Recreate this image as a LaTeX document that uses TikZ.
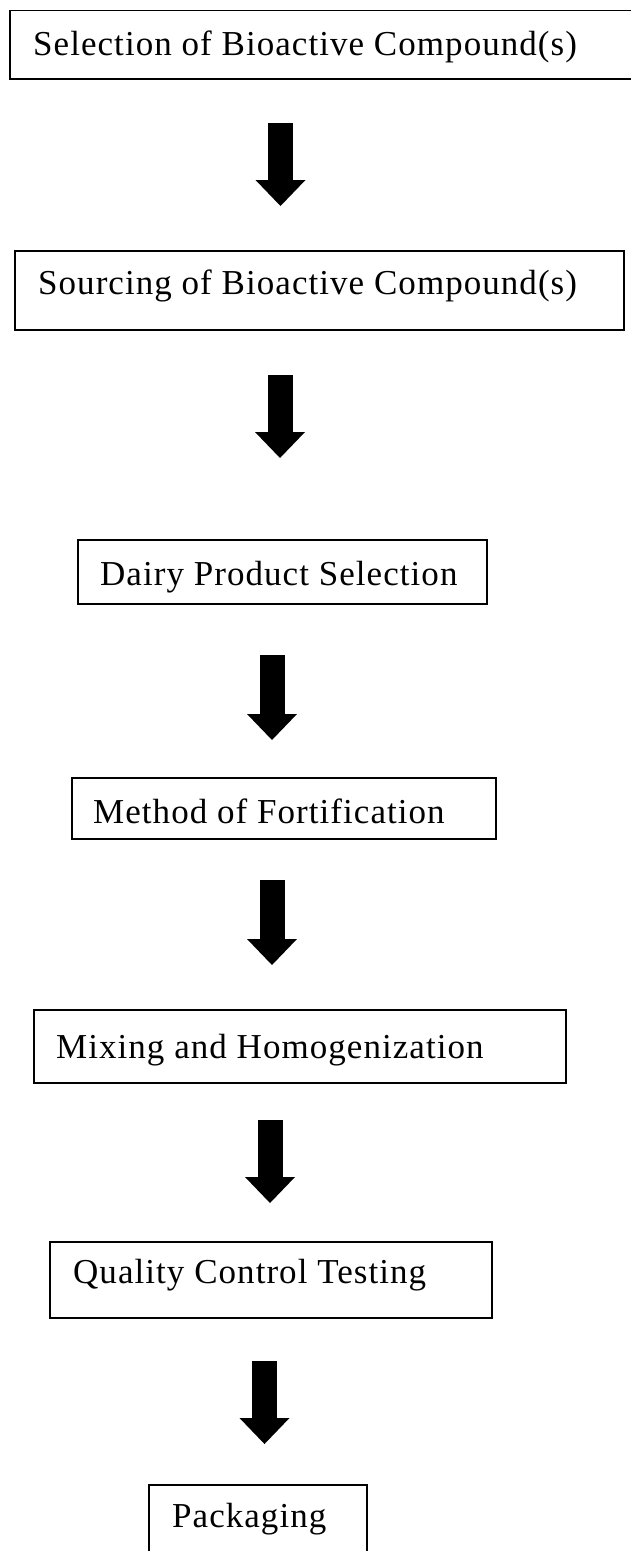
\documentclass[tikz,border=0pt]{standalone}
\usepackage{fontspec}
\setmainfont[LetterSpace=3]{Liberation Serif}
\usetikzlibrary{arrows.meta}

\begin{document}
\begin{tikzpicture}[x=1pt, y=1pt,
  stepbox/.style={draw, line width=1.8pt, inner sep=0pt, anchor=north west},
  lbl/.style={font=\fontsize{35}{40}\selectfont, inner sep=0pt, anchor=base west},
  down/.style={line width=25pt, -{Triangle[length=26pt, width=50pt, line width=0pt]}}]
\useasboundingbox (0,0) rectangle (630,-1551);
% boxes (top left corner, size)
\node[stepbox, minimum width=640pt, minimum height=68.5pt] (sel) at (9,-9.5) {};
\node[stepbox, minimum width=609pt, minimum height=79pt] (src) at (14,-250) {};
\node[stepbox, minimum width=409pt, minimum height=64pt] (dairy) at (77,-539) {};
\node[stepbox, minimum width=424pt, minimum height=61pt] (meth) at (71,-777) {};
\node[stepbox, minimum width=532pt, minimum height=73pt] (mix) at (33,-1009) {};
\node[stepbox, minimum width=442pt, minimum height=76pt] (qc) at (49,-1241) {};
\node[stepbox, minimum width=218pt, minimum height=100pt] (pack) at (148,-1484) {};
% texts, on their baselines
\node[lbl] (selt) at (33,-55) {Selection of Bioactive Compound(s)};
\node[lbl] (srct) at (38,-294) {Sourcing of Bioactive Compound(s)};
\node[lbl] (dairyt) at (100,-585) {Dairy Product Selection};
\node[lbl] (metht) at (93,-823) {Method of Fortification};
\node[lbl] (mixt) at (56,-1058) {Mixing and Homogenization};
\node[lbl] (qct) at (73,-1283) {Quality Control Testing};
\node[lbl] (packt) at (172,-1527) {Packaging};
% block arrows between the steps
\foreach \x/\t/\b [count=\i] in {280.5/123/206, 280/375/458, 272/655/740, 272/880/965, 270/1120/1203, 264.5/1361/1444}{
  \coordinate (top\i) at (\x,-\t);
  \coordinate (tip\i) at (\x,-\b);
  \draw[down] (top\i) -- (tip\i);
}
\end{tikzpicture}
\end{document}
